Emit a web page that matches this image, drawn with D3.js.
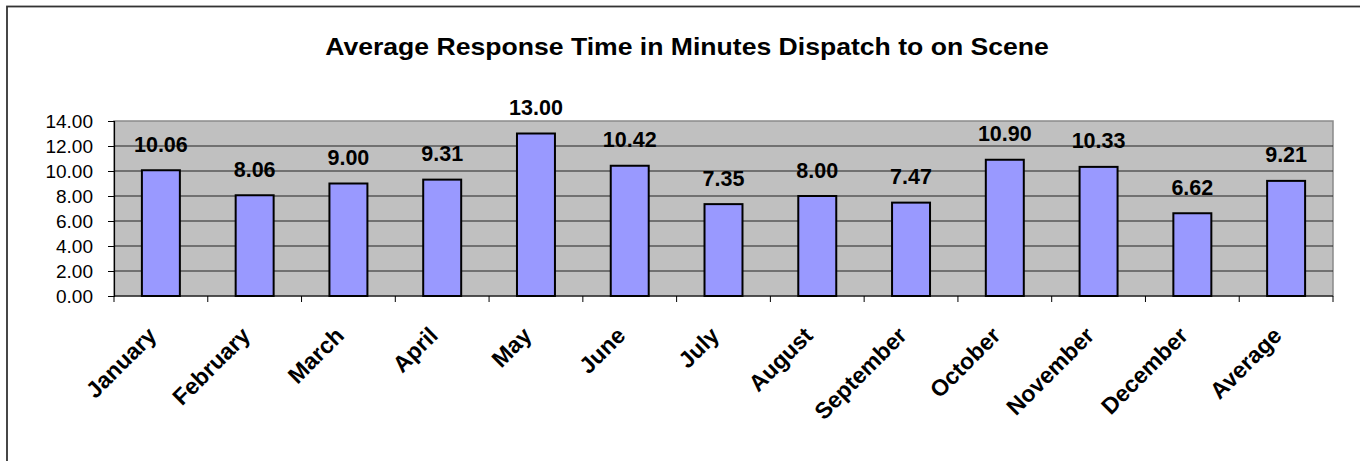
<!DOCTYPE html>
<html><head><meta charset="utf-8">
<script src="https://cdn.jsdelivr.net/npm/d3@7"></script>
<style>body{margin:0;background:#fff}svg{display:block;font-family:Arial,"Liberation Sans",sans-serif}</style>
</head><body><svg id="c" width="1360" height="461"></svg>
<script>
const categories = ["January","February","March","April","May","June","July","August","September","October","November","December","Average"];
const values = [10.06, 8.06, 9.00, 9.31, 13.00, 10.42, 7.35, 8.00, 7.47, 10.90, 10.33, 6.62, 9.21];
const yTicks = [0, 2, 4, 6, 8, 10, 12, 14];
const title = "Average Response Time in Minutes Dispatch to on Scene";

const svg = d3.select("#c");
const M = {left:114, right:1333, top:121, bottom:296};

// outer chart border (only left/top visible)
svg.append("rect").attr("x",7).attr("y",6.5).attr("width",1400).attr("height",500)
  .attr("fill","none").attr("stroke","#333").attr("stroke-width",1.8);

const t = svg.append("text").attr("x",0).attr("y",0).attr("text-anchor","middle")
  .attr("font-weight","bold").attr("font-size",23.5).text(title);
const tw = t.node().getComputedTextLength();
t.attr("transform",`translate(687,55) scale(${724/tw},1)`);

const x = d3.scaleBand().domain(categories).range([M.left, M.right]).paddingInner(0.595).paddingOuter(0.2975);
const y = d3.scaleLinear().domain([0,14]).range([M.bottom, M.top]);

svg.append("rect").attr("x",M.left).attr("y",M.top).attr("width",M.right-M.left).attr("height",M.bottom-M.top)
  .attr("fill","#C0C0C0").attr("stroke","#8a8a8a").attr("stroke-width",1.5);

svg.append("g").selectAll("line").data(yTicks.filter(d=>d>0&&d<14)).join("line")
  .attr("x1",M.left).attr("x2",M.right).attr("y1",d=>y(d)).attr("y2",d=>y(d))
  .attr("stroke","#222").attr("stroke-width",1);

svg.append("g").selectAll("rect").data(values).join("rect")
  .attr("x",(d,i)=>x(categories[i])).attr("width",x.bandwidth())
  .attr("y",d=>y(d)).attr("height",d=>y(0)-y(d))
  .attr("fill","#9999FF").attr("stroke","#000").attr("stroke-width",2);

svg.append("g").selectAll("text").data(values).join("text")
  .attr("x",(d,i)=>x(categories[i])+x.bandwidth()/2).attr("y",d=>y(d)-18.5)
  .attr("text-anchor","middle").attr("font-weight","bold").attr("font-size",21.5)
  .text(d=>d.toFixed(2));

// y axis
const yAxis = svg.append("g").attr("transform",`translate(${M.left},0)`)
  .call(d3.axisLeft(y).tickValues(yTicks).tickFormat(d3.format(".2f")).tickSize(6).tickPadding(15));
yAxis.select(".domain").attr("stroke","#000").attr("stroke-width",1.2);
yAxis.selectAll(".tick line").attr("stroke","#000");
yAxis.selectAll("text").attr("font-size",19).attr("font-family","Arial,'Liberation Sans',sans-serif").attr("fill","#000");

// x axis
const bounds = d3.range(categories.length+1).map(i => M.left + i*(M.right-M.left)/categories.length);
svg.append("line").attr("x1",M.left).attr("x2",M.right).attr("y1",M.bottom).attr("y2",M.bottom).attr("stroke","#000").attr("stroke-width",1.2);
svg.append("g").selectAll("line").data(bounds).join("line")
  .attr("x1",d=>d).attr("x2",d=>d).attr("y1",M.bottom).attr("y2",M.bottom+6).attr("stroke","#000");

svg.append("g").selectAll("text").data(categories).join("text")
  .attr("transform",d=>`translate(${x(d)+x.bandwidth()/2-3},337) rotate(-45)`)
  .attr("text-anchor","end").attr("font-weight","bold").attr("font-size",23)
  .text(d=>d);
</script></body></html>
